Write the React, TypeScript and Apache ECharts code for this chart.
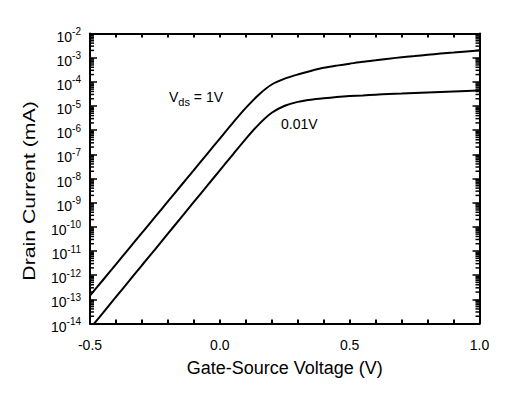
import React, { useEffect, useRef } from 'react';
import * as echarts from 'echarts';

// Gate-source voltage (V)
const vgs = [
  -0.5, -0.45, -0.4, -0.35, -0.3, -0.25, -0.2, -0.15, -0.1, -0.05,
  0.0, 0.05, 0.1, 0.15, 0.2, 0.25, 0.3, 0.35, 0.4, 0.45,
  0.5, 0.55, 0.6, 0.65, 0.7, 0.75, 0.8, 0.85, 0.9, 0.95, 1.0,
];
// Drain current (mA), Vds = 1V
const idVds1 = [
  1.41e-13, 6.31e-13, 2.82e-12, 1.26e-11, 5.62e-11, 2.51e-10, 1.12e-9, 5.01e-9, 2.24e-8, 1.0e-7,
  4.47e-7, 2.0e-6, 8.32e-6, 2.95e-5, 7.76e-5, 1.35e-4, 2.0e-4, 2.82e-4, 3.8e-4, 4.68e-4,
  5.62e-4, 6.76e-4, 7.76e-4, 9.12e-4, 1.05e-3, 1.17e-3, 1.32e-3, 1.48e-3, 1.62e-3, 1.82e-3, 2.0e-3,
];
// Drain current (mA), Vds = 0.01V
const idVds001 = [
  6.17e-15, 2.75e-14, 1.26e-13, 5.62e-13, 2.57e-12, 1.15e-11, 5.25e-11, 2.34e-10, 1.07e-9, 4.79e-9,
  2.19e-8, 9.77e-8, 4.37e-7, 1.74e-6, 5.25e-6, 1.02e-5, 1.48e-5, 1.82e-5, 2.09e-5, 2.34e-5,
  2.57e-5, 2.75e-5, 2.95e-5, 3.16e-5, 3.31e-5, 3.47e-5, 3.63e-5, 3.8e-5, 3.98e-5, 4.17e-5, 4.37e-5,
];

const xLabels = ['-0.5', '0.0', '0.5', '1.0'];
const yMinExp = -14;
const yMaxExp = -2;

const FONT = '"Liberation Sans", Arial, Helvetica, sans-serif';

export default function App() {
  const ref = useRef<HTMLDivElement>(null);
  useEffect(() => {
    if (!ref.current) return;
    const chart = echarts.init(ref.current, undefined, { renderer: 'svg' });
    const xMin = -0.5;
    const xMax = 1.0;
    const minorVals: number[][] = [];
    for (let e = yMinExp; e < yMaxExp; e++) {
      for (let k = 2; k <= 9; k++) minorVals.push([xMin, k * Math.pow(10, e)]);
    }
    const lineStyleAxis = { color: '#000', width: 2 };
    const xAxisCommon = {
      type: 'value' as const,
      min: xMin,
      max: xMax,
      interval: 0.1,
      splitLine: { show: false },
      axisLine: { show: true, onZero: false, lineStyle: lineStyleAxis },
      axisTick: { show: true, inside: true, length: 4, lineStyle: { color: '#000', width: 2 } },
    };
    const yAxisCommon = {
      type: 'log' as const,
      logBase: 10,
      min: Math.pow(10, yMinExp),
      max: Math.pow(10, yMaxExp),
      interval: 1,
      splitNumber: yMaxExp - yMinExp,
      splitLine: { show: false },
      axisLine: { show: true, onZero: false, lineStyle: lineStyleAxis },
      axisTick: { show: true, inside: true, length: 7, interval: 0, lineStyle: { color: '#000', width: 1.5 } },
    };
    chart.setOption({
      animation: false,
      backgroundColor: '#fff',
      grid: { left: 90, right: 37.5, top: 33.5, bottom: 73.5, containLabel: false },
      xAxis: [
        {
          ...xAxisCommon,
          position: 'bottom',
          name: 'Gate-Source Voltage (V)',
          nameLocation: 'middle',
          nameGap: 35,
          nameTextStyle: { color: '#000', fontSize: 18, fontFamily: FONT },
          axisLabel: {
            show: true,
            color: '#000',
            fontSize: 14,
            fontFamily: FONT,
            margin: 14,
            formatter: (v: number) => {
              const i = Math.round((v - xMin) / 0.5);
              return Math.abs(v - (xMin + i * 0.5)) < 1e-6 ? xLabels[i] : '';
            },
          },
        },
        {
          ...xAxisCommon,
          position: 'top',
          axisLabel: { show: false },
        },
      ],
      yAxis: [
        {
          ...yAxisCommon,
          position: 'left',
          axisLabel: {
            show: true,
            interval: 0,
            color: '#000',
            fontFamily: FONT,
            margin: 9,
            padding: [6, 0, 0, 0],
            formatter: (v: number) => `{b|10}{s|${Math.round(Math.log10(v))}}`,
            rich: {
              b: { fontSize: 14, lineHeight: 20, fontFamily: FONT, color: '#000' },
              s: { fontSize: 10, lineHeight: 8, verticalAlign: 'top', fontFamily: FONT, color: '#000' },
            },
          },
        },
        {
          ...yAxisCommon,
          position: 'right',
          axisLabel: { show: false },
        },
      ],
      series: [
        {
          name: 'Vds = 1V',
          type: 'line',
          data: vgs.map((v, i) => [v, idVds1[i]]),
          showSymbol: false,
          smooth: 0.25,
          clip: true,
          lineStyle: { color: '#000', width: 2 },
        },
        {
          name: 'Vds = 0.01V',
          type: 'line',
          data: vgs.map((v, i) => [v, idVds001[i]]),
          showSymbol: false,
          smooth: 0.25,
          clip: true,
          lineStyle: { color: '#000', width: 2 },
        },
        {
          type: 'custom',
          silent: true,
          z: 5,
          data: minorVals,
          renderItem: (_params: any, api: any) => {
            const v = api.value(1);
            const pL = api.coord([xMin, v]);
            const pR = api.coord([xMax, v]);
            return {
              type: 'group',
              children: [
                { type: 'line', shape: { x1: pL[0], y1: pL[1], x2: pL[0] + 4, y2: pL[1] }, style: { stroke: '#000', lineWidth: 1.5 } },
                { type: 'line', shape: { x1: pR[0] - 4, y1: pR[1], x2: pR[0], y2: pR[1] }, style: { stroke: '#000', lineWidth: 1.5 } },
              ],
            };
          },
        },
      ],
      graphic: [
        {
          type: 'text',
          x: 29,
          y: 191,
          rotation: Math.PI / 2,
          scaleX: 1.25,
          style: {
            text: 'Drain Current (mA)',
            font: `17px ${FONT}`,
            textAlign: 'center',
            textVerticalAlign: 'middle',
            fill: '#000',
          },
        },
        {
          type: 'text',
          x: 169,
          y: 97,
          style: {
            text: '{v|V}{d|ds}{v| = 1V}',
            textVerticalAlign: 'middle',
            textAlign: 'left',
            rich: {
              v: { fontSize: 14, lineHeight: 20, fontFamily: FONT, fill: '#000' },
              d: { fontSize: 11, lineHeight: 11, verticalAlign: 'bottom', fontFamily: FONT, fill: '#000' },
            },
          },
        },
        {
          type: 'text',
          x: 281,
          y: 124,
          style: {
            text: '0.01V',
            font: `14px ${FONT}`,
            textVerticalAlign: 'middle',
            textAlign: 'left',
            fill: '#000',
          },
        },
      ],
    });
    return () => chart.dispose();
  }, []);
  return <div ref={ref} style={{ position: 'fixed', left: 0, top: 0, width: 517, height: 397 }} />;
}
